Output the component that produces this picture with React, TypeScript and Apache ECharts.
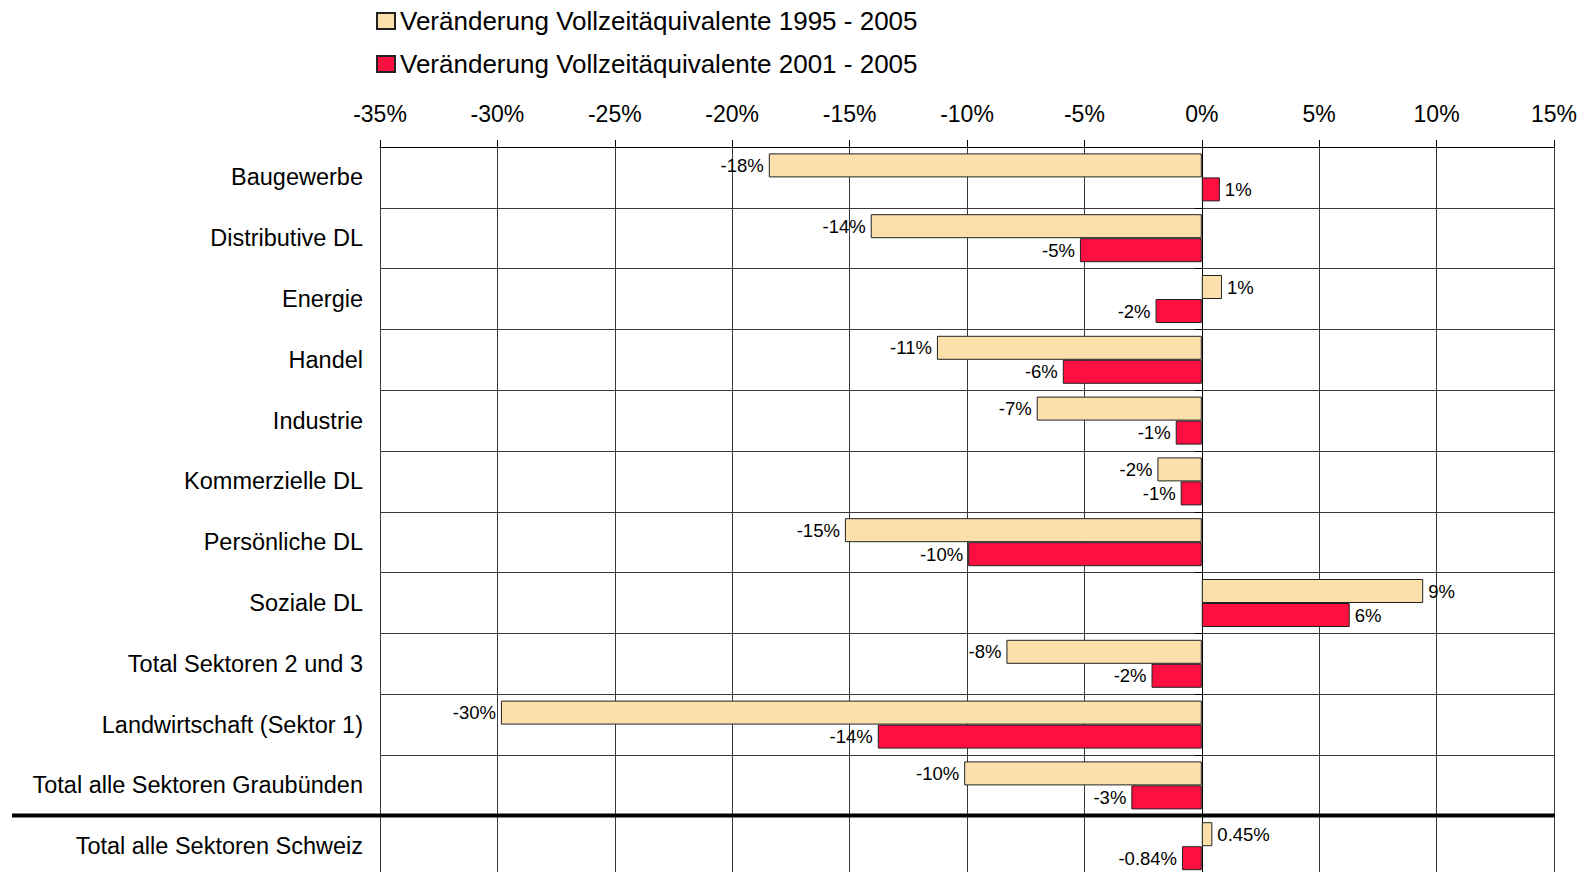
import React, { useEffect, useRef } from "react";
import * as echarts from "echarts";

const categories = [
  "Baugewerbe",
  "Distributive DL",
  "Energie",
  "Handel",
  "Industrie",
  "Kommerzielle DL",
  "Persönliche DL",
  "Soziale DL",
  "Total Sektoren 2 und 3",
  "Landwirtschaft (Sektor 1)",
  "Total alle Sektoren Graubünden",
  "Total alle Sektoren Schweiz",
];

const seriesNames = [
  "Veränderung Vollzeitäquivalente 1995 - 2005",
  "Veränderung Vollzeitäquivalente 2001 - 2005",
];

const change1995 = [-18.44, -14.1, 0.86, -11.28, -7.03, -1.89, -15.2, 9.43, -8.32, -29.85, -10.12, 0.45];
const change2001 = [0.77, -5.19, -1.97, -5.92, -1.11, -0.9, -9.95, 6.3, -2.14, -13.8, -3.0, -0.84];
const labelDecimals = [0, 0, 0, 0, 0, 0, 0, 0, 0, 0, 0, 2];

const FONT = "'Liberation Sans', Arial, sans-serif";

export default function App() {
  const ref = useRef<HTMLDivElement>(null);
  useEffect(() => {
    if (!ref.current) return;
    const chart = echarts.init(ref.current, null, { renderer: "svg" });
    const mkData = (vals: number[]) =>
      vals.map((v) => ({ value: v, label: { position: v < 0 ? "left" : "right" } }));
    const labelCfg = {
      show: true,
      color: "#000",
      fontSize: 18.5,
      fontFamily: FONT,
      distance: 5,
      formatter: (p: any) => `${Number(p.value).toFixed(labelDecimals[p.dataIndex])}%`,
    };
    chart.setOption({
      animation: false,
      textStyle: { fontFamily: FONT },
      legend: {
        orient: "vertical",
        left: 371,
        top: 3,
        itemWidth: 18,
        itemHeight: 16,
        itemGap: 17,
        icon: "rect",
        textStyle: { fontSize: 26, color: "#000", fontFamily: FONT },
        data: seriesNames,
      },
      grid: { left: 380, right: 25, top: 147, height: 729.6, containLabel: false },
      xAxis: {
        type: "value",
        position: "top",
        min: -35,
        max: 15,
        interval: 5,
        axisLine: { show: true, lineStyle: { color: "#000", width: 1 } },
        axisTick: { show: true, length: 7, lineStyle: { color: "#000" } },
        axisLabel: {
          margin: 22,
          fontSize: 23,
          color: "#000",
          fontFamily: FONT,
          formatter: (v: number) => `${v}%`,
        },
        splitLine: { show: true, lineStyle: { color: "#3a3a3a", width: 1 } },
      },
      yAxis: [
        {
          type: "category",
          data: categories,
          inverse: true,
          position: "left",
          axisLine: { show: false, onZero: false },
          axisTick: { show: false },
          axisLabel: { margin: 17, fontSize: 23.5, color: "#000", fontFamily: FONT },
          splitLine: { show: true, lineStyle: { color: "#3a3a3a", width: 1 } },
        },
        {
          type: "category",
          data: categories,
          inverse: true,
          position: "right",
          axisLine: { show: true, onZero: true, lineStyle: { color: "#000", width: 1 } },
          axisTick: { show: true, inside: true, length: 7, lineStyle: { color: "#000" } },
          axisLabel: { show: false },
          splitLine: { show: false },
        },
      ],
      series: [
        {
          name: seriesNames[0],
          type: "bar",
          yAxisIndex: 0,
          barWidth: 24,
          barGap: "0%",
          data: mkData(change1995),
          itemStyle: { color: "#FBE0AC", borderColor: "#222", borderWidth: 1 },
          label: labelCfg,
        },
        {
          name: seriesNames[1],
          type: "bar",
          yAxisIndex: 0,
          barWidth: 24,
          barGap: "0%",
          data: mkData(change2001),
          itemStyle: { color: "#FF0F40", borderColor: "#222", borderWidth: 1 },
          label: labelCfg,
        },
      ],
      graphic: [
        {
          type: "line",
          shape: { x1: 12, y1: 815.5, x2: 1555, y2: 815.5 },
          style: { stroke: "#000", lineWidth: 4 },
          z: 100,
        },
      ],
    });
    return () => chart.dispose();
  }, []);
  return (
    <div
      ref={ref}
      style={{ position: "fixed", left: 0, top: 0, width: 1580, height: 880, background: "#fff" }}
    />
  );
}
